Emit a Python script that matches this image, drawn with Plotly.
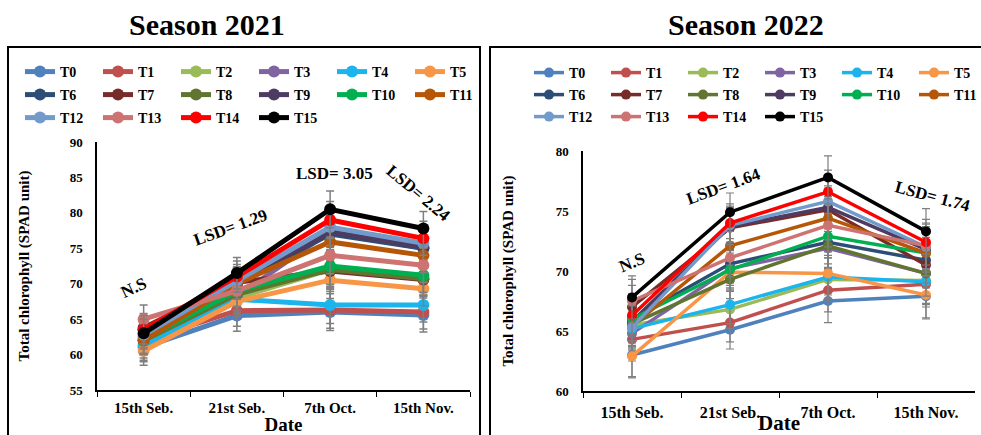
import plotly.graph_objects as go

dates = ["15th Seb.", "21st Seb.", "7th Oct.", "15th Nov."]
treatments = ["T0", "T1", "T2", "T3", "T4", "T5", "T6", "T7",
              "T8", "T9", "T10", "T11", "T12", "T13", "T14", "T15"]
colors = ["#4F81BD", "#C0504D", "#9BBB59", "#8064A2", "#1CB4EC", "#F79646",
          "#2C4D75", "#772C2A", "#5F7530", "#4D3B62", "#00B050", "#B65708",
          "#729ACA", "#CD7371", "#FF0000", "#000000"]

# Season 2021 values (SPAD)
s2021 = {
    "T0":  [61.0, 65.5, 66.0, 65.6],
    "T1":  [62.0, 66.2, 66.3, 66.0],
    "T2":  [61.5, 68.0, 72.0, 70.8],
    "T3":  [62.5, 68.2, 77.4, 75.0],
    "T4":  [61.2, 67.8, 67.0, 67.0],
    "T5":  [60.5, 67.5, 70.5, 69.3],
    "T6":  [63.5, 70.0, 77.0, 75.0],
    "T7":  [63.8, 70.2, 71.8, 70.6],
    "T8":  [62.0, 68.5, 72.0, 70.7],
    "T9":  [63.5, 70.0, 77.3, 75.2],
    "T10": [62.2, 69.0, 72.5, 71.2],
    "T11": [62.0, 70.0, 75.9, 74.0],
    "T12": [62.8, 70.5, 78.0, 75.7],
    "T13": [65.0, 69.0, 74.0, 72.6],
    "T14": [63.5, 71.0, 79.0, 76.4],
    "T15": [63.0, 71.5, 80.5, 77.8],
}
err2021 = [2.0, 2.2, 2.6, 2.4]

# Season 2022 values (SPAD)
s2022 = {
    "T0":  [63.0, 65.1, 67.5, 67.9],
    "T1":  [64.3, 65.7, 68.4, 68.9],
    "T2":  [65.5, 66.8, 69.3, 69.2],
    "T3":  [64.8, 70.2, 71.9, 69.8],
    "T4":  [65.2, 67.2, 69.5, 69.1],
    "T5":  [62.9, 69.9, 69.8, 68.0],
    "T6":  [66.0, 70.6, 72.4, 70.9],
    "T7":  [67.0, 73.6, 75.1, 70.5],
    "T8":  [65.6, 69.3, 72.1, 69.8],
    "T9":  [65.8, 73.7, 75.3, 71.8],
    "T10": [66.0, 70.1, 72.9, 71.5],
    "T11": [65.4, 72.1, 74.4, 71.5],
    "T12": [65.3, 73.8, 75.8, 72.0],
    "T13": [67.5, 71.1, 73.8, 72.1],
    "T14": [66.3, 74.0, 76.6, 72.4],
    "T15": [67.8, 74.9, 77.8, 73.3],
}
err2022 = [1.8, 1.6, 1.8, 1.9]

FONT = "Liberation Serif"
W, H = 981, 435
PER_ROW = 6

def px_x(p):
    return p / W

def px_y(p):
    return 1 - p / H

bold = dict(family=FONT, color="black", weight="bold")

fig = go.Figure()

for i, t in enumerate(treatments):
    fig.add_trace(go.Scatter(
        x=dates, y=s2021[t], name=t, mode="lines+markers",
        line=dict(color=colors[i], width=5),
        marker=dict(color=colors[i], size=12),
        error_y=dict(type="data", array=err2021, color="#7F7F7F",
                     thickness=1.5, width=4),
        xaxis="x", yaxis="y",
        legend="legend" if i // PER_ROW == 0 else "legend%d" % (i // PER_ROW + 1),
    ))
for i, t in enumerate(treatments):
    fig.add_trace(go.Scatter(
        x=dates, y=s2022[t], name=t, mode="lines+markers",
        line=dict(color=colors[i], width=3.5),
        marker=dict(color=colors[i], size=10),
        error_y=dict(type="data", array=err2022, color="#7F7F7F",
                     thickness=1.2, width=4),
        xaxis="x2", yaxis="y2",
        legend="legend%d" % (i // PER_ROW + 4),
    ))

def xax(fs, tfs, lso, tso):
    return dict(type="category", range=[-0.5, 3.5], showline=True,
                linecolor="black", linewidth=1.5,
                ticks="outside", tickson="boundaries", ticklen=5,
                tickcolor="black", showgrid=False, zeroline=False,
                automargin=False, tickfont=dict(size=fs, **bold),
                ticklabelstandoff=lso,
                title=dict(text="Date", font=dict(size=tfs, **bold), standoff=tso))

yax = dict(showline=True, linecolor="black", linewidth=1.5, ticks="",
           showgrid=False, zeroline=False, dtick=5, automargin=False,
           tickfont=dict(size=13, **bold), ticklabelstandoff=10)

def leg(xp, yp, ew):
    return dict(orientation="h", x=px_x(xp), y=px_y(yp), xanchor="left",
                yanchor="middle", entrywidth=ew, entrywidthmode="pixels",
                font=dict(size=14, **bold), bgcolor="rgba(0,0,0,0)",
                borderwidth=0)

fig.update_layout(
    template="none",
    width=W, height=H,
    margin=dict(l=0, r=0, t=0, b=0, pad=0, autoexpand=False),
    paper_bgcolor="white", plot_bgcolor="white",
    font=dict(family=FONT, color="black"),
    xaxis=dict(domain=[px_x(97), px_x(470)], anchor="y", **xax(15, 19, 3, 6)),
    yaxis=dict(domain=[px_y(390), px_y(142)], anchor="x", range=[55, 90],
               title=dict(text="Total chlorophyll (SPAD unit)",
                          font=dict(size=15, **bold), standoff=36), **yax),
    xaxis2=dict(domain=[px_x(583), px_x(975)], anchor="y2", **xax(16, 21, 6, 3)),
    yaxis2=dict(domain=[px_y(391), px_y(151)], anchor="x2", range=[60, 80],
                title=dict(text="Total chlorophyll (SPAD unit)",
                           font=dict(size=15, **bold), standoff=38), **yax),
    legend=leg(20, 72, 33),
    legend2=leg(20, 95, 33),
    legend3=leg(20, 118, 33),
    legend4=leg(529, 73, 32),
    legend5=leg(529, 95, 32),
    legend6=leg(529, 117, 32),
    showlegend=True,
)

# panel frames
fig.add_shape(type="rect", xref="paper", yref="paper",
              x0=px_x(8), x1=px_x(480), y0=px_y(440), y1=px_y(47),
              line=dict(color="black", width=2))
fig.add_shape(type="rect", xref="paper", yref="paper",
              x0=px_x(490), x1=px_x(990), y0=px_y(440), y1=px_y(47),
              line=dict(color="black", width=2))

# titles
fig.add_annotation(text="Season 2021", xref="paper", yref="paper",
                   x=px_x(207), y=px_y(24), xanchor="center", yanchor="middle",
                   showarrow=False, font=dict(size=30, **bold))
fig.add_annotation(text="Season 2022", xref="paper", yref="paper",
                   x=px_x(746), y=px_y(24), xanchor="center", yanchor="middle",
                   showarrow=False, font=dict(size=30, **bold))

# LSD labels
lsd1 = [("N.S", -0.1, 69.4, -25), ("LSD= 1.29", 0.93, 78.0, -20),
        ("LSD= 3.05", 2.05, 85.6, 0), ("LSD= 2.24", 2.95, 82.8, 40)]
lsd2 = [("N.S", 0.0, 70.7, -22), ("LSD= 1.64", 0.93, 77.0, -20),
        ("LSD= 1.29", 2.05, 80.1, 0), ("LSD= 1.74", 3.07, 76.2, 15)]
for txt, xv, yv, ang in lsd1:
    fig.add_annotation(text=txt, x=xv, y=yv, xref="x", yref="y",
                       xanchor="center", yanchor="middle",
                       showarrow=False, textangle=ang,
                       font=dict(size=17, **bold))
for txt, xv, yv, ang in lsd2:
    fig.add_annotation(text=txt, x=xv, y=yv, xref="x2", yref="y2",
                       xanchor="center", yanchor="middle",
                       showarrow=False, textangle=ang,
                       font=dict(size=17, **bold))

fig.write_html("out.html")
